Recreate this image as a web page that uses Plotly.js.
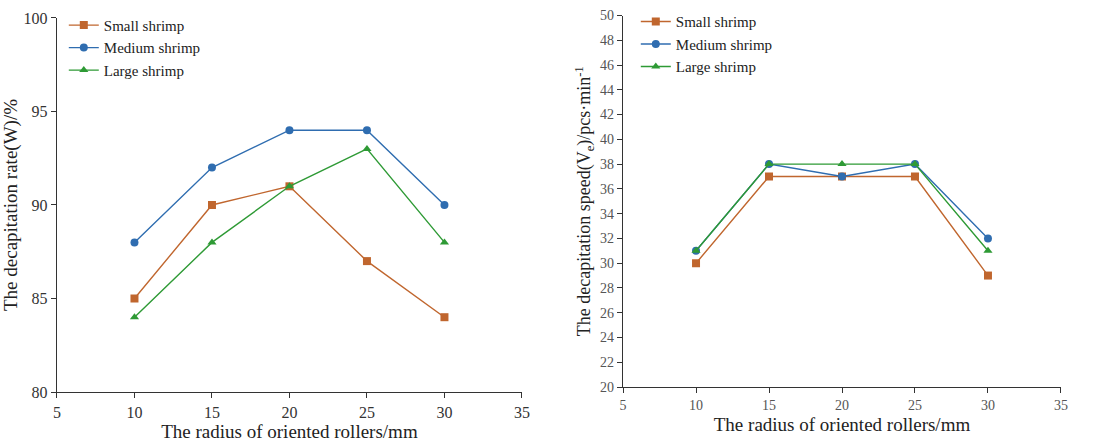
<!DOCTYPE html>
<html><head><meta charset="utf-8">
<script src="https://cdn.plot.ly/plotly-3.0.1.min.js"></script>
<style>body{margin:0;background:#fff}#c{width:1100px;height:443px}</style>
</head><body><div id="c"></div>
<script>
const radius = [10, 15, 20, 25, 30];
const seriesNames = ["Small shrimp", "Medium shrimp", "Large shrimp"];
const rateSmall = [85, 90, 91, 87, 84];
const rateMedium = [88, 92, 94, 94, 90];
const rateLarge = [84, 88, 91, 93, 88];
const speedSmall = [30, 37, 37, 37, 29];
const speedMedium = [31, 38, 37, 38, 32];
const speedLarge = [31, 38, 38, 38, 31];

const colors = ["#c0662e", "#2f6db0", "#2e9a35"];
const symbols = ["square", "circle", "triangle-up"];

function tr(y, i, xa, ya, lg) {
  return {x: radius, y: y, name: seriesNames[i], type: "scatter", mode: "lines+markers",
    xaxis: xa, yaxis: ya, legend: lg,
    line: {color: colors[i], width: 1.4},
    marker: {color: colors[i], symbol: symbols[i], size: 8}};
}
const data = [
  tr(rateSmall, 0, "x", "y", "legend"), tr(rateMedium, 1, "x", "y", "legend"), tr(rateLarge, 2, "x", "y", "legend"),
  tr(speedSmall, 0, "x2", "y2", "legend2"), tr(speedMedium, 1, "x2", "y2", "legend2"), tr(speedLarge, 2, "x2", "y2", "legend2")
];
const fnt = {family: "Liberation Serif, Times New Roman, serif", color: "#222"};
const axBase = {showgrid: false, zeroline: false, showline: true, linecolor: "#333", linewidth: 1.3,
  ticks: "outside", ticklen: 5, tickcolor: "#333", mirror: false};
const layout = {
  width: 1100, height: 443, margin: {l: 0, r: 0, t: 0, b: 0},
  paper_bgcolor: "#fff", plot_bgcolor: "#fff", font: fnt,
  xaxis: Object.assign({}, axBase, {domain: [0.0518, 0.4745], range: [5, 35], dtick: 5, anchor: "y",
    tickfont: {size: 16, family: fnt.family, color: "#333"},
    title: {text: "The radius of oriented rollers/mm", font: {size: 19, family: fnt.family, color: "#222"}, standoff: 4}}),
  yaxis: Object.assign({}, axBase, {domain: [0.1151, 0.9594], range: [80, 100], dtick: 5, anchor: "x",
    tickfont: {size: 16, family: fnt.family, color: "#333"},
    title: {text: "The decapitation rate(W)/%", font: {size: 19, family: fnt.family, color: "#222"}, standoff: 2}}),
  xaxis2: Object.assign({}, axBase, {domain: [0.5664, 0.9645], range: [5, 35], dtick: 5, anchor: "y2",
    tickfont: {size: 14, family: fnt.family, color: "#555"},
    title: {text: "The radius of oriented rollers/mm", font: {size: 19, family: fnt.family, color: "#222"}, standoff: 5}}),
  yaxis2: Object.assign({}, axBase, {domain: [0.1264, 0.965], range: [20, 50], dtick: 2, anchor: "x2",
    tickfont: {size: 14, family: fnt.family, color: "#555"},
    title: {text: "The decapitation speed(V<sub>e</sub>)/pcs·min<sup>-1</sup>", font: {size: 18, family: fnt.family, color: "#222"}, standoff: 4}}),
  legend: {x: 0.058, y: 0.98, xanchor: "left", yanchor: "top", bgcolor: "rgba(0,0,0,0)",
    font: {size: 15, family: fnt.family, color: "#222"}, tracegroupgap: 0, itemwidth: 30},
  legend2: {x: 0.578, y: 0.988, xanchor: "left", yanchor: "top", bgcolor: "rgba(0,0,0,0)",
    font: {size: 15, family: fnt.family, color: "#222"}, tracegroupgap: 0, itemwidth: 30},
  showlegend: true
};
Plotly.newPlot("c", data, layout, {displayModeBar: false, staticPlot: true});
</script></body></html>
